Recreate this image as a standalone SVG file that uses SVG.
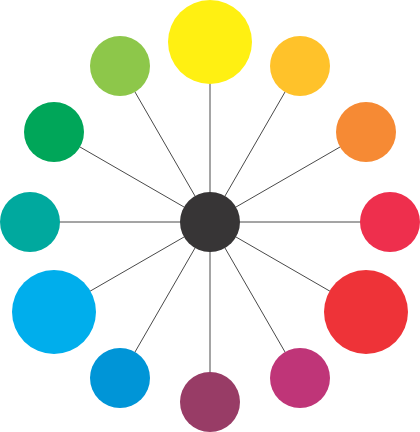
<svg xmlns="http://www.w3.org/2000/svg" width="420" height="432" viewBox="0 0 420 432">
<style>
.spoke{stroke:#4a4a4a;stroke-width:1;fill:none}
</style>
<rect width="420" height="432" fill="#ffffff"/>
<g id="connectors" class="spoke">
<line x1="210" y1="222" x2="210" y2="42"/>
<line x1="210" y1="222" x2="300" y2="66"/>
<line x1="210" y1="222" x2="366" y2="132"/>
<line x1="210" y1="222" x2="390" y2="222"/>
<line x1="210" y1="222" x2="366" y2="312"/>
<line x1="210" y1="222" x2="300" y2="378"/>
<line x1="210" y1="222" x2="210" y2="402"/>
<line x1="210" y1="222" x2="120" y2="378"/>
<line x1="210" y1="222" x2="54" y2="312"/>
<line x1="210" y1="222" x2="30" y2="222"/>
<line x1="210" y1="222" x2="54" y2="132"/>
<line x1="210" y1="222" x2="120" y2="66"/>
</g>
<g id="yellow"><circle cx="210" cy="42" r="42" fill="#FFF012"/></g>
<g id="yellow-orange"><circle cx="300" cy="66" r="30" fill="#FFC22A"/></g>
<g id="orange"><circle cx="366" cy="132" r="30" fill="#F68A34"/></g>
<g id="red-orange"><circle cx="390" cy="222" r="30" fill="#EE2F4D"/></g>
<g id="red"><circle cx="366" cy="312" r="42" fill="#EE3338"/></g>
<g id="magenta"><circle cx="300" cy="378" r="30" fill="#BF3578"/></g>
<g id="purple"><circle cx="210" cy="402" r="30" fill="#983C66"/></g>
<g id="blue"><circle cx="120" cy="378" r="30" fill="#0095D7"/></g>
<g id="cyan"><circle cx="54" cy="312" r="42" fill="#00AEEC"/></g>
<g id="teal"><circle cx="30" cy="222" r="30" fill="#00A99E"/></g>
<g id="green"><circle cx="54" cy="132" r="30" fill="#00A659"/></g>
<g id="lime"><circle cx="120" cy="66" r="30" fill="#8DC74A"/></g>
<g id="center"><circle cx="210" cy="222" r="30" fill="#373536"/></g>
</svg>
